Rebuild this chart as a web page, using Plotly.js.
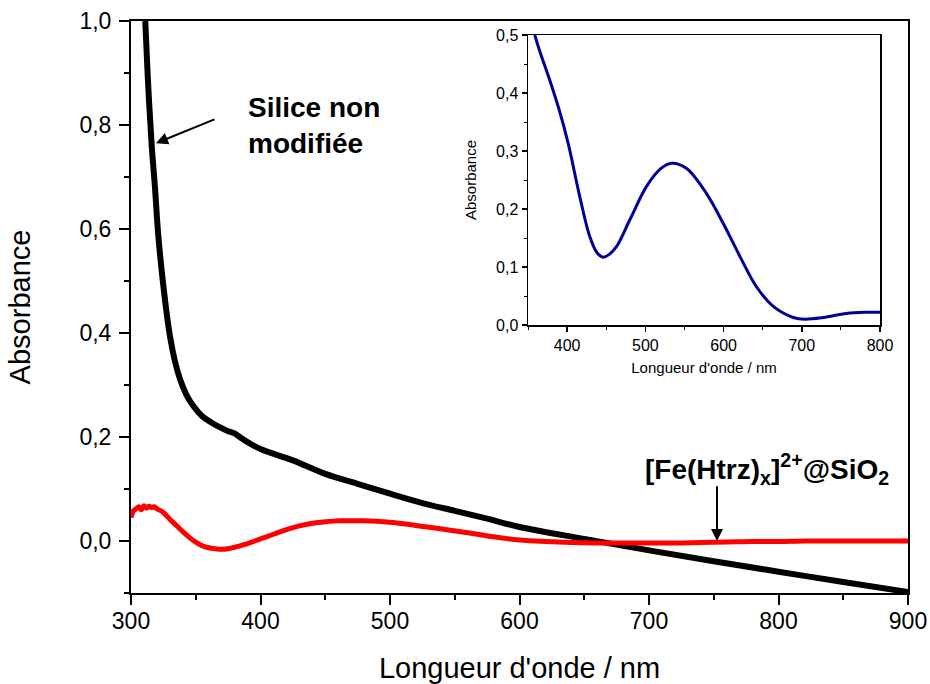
<!DOCTYPE html>
<html>
<head>
<meta charset="utf-8">
<script src="https://cdn.plot.ly/plotly-3.0.1.min.js"></script>
<style>html,body{margin:0;padding:0;background:#fff;}#chart{width:930px;height:684px;}</style>
</head>
<body>
<div id="chart"></div>
<script>
// Silice non modifiée (black)
const silicaX = [311,313,316,318.5,321,325,330,334,338,343,348,355,362,370,375,380,385,390,400,425,450,475,500,525,550,575,600,650,700,750,800,850,900];
const silicaY = [1.0,0.89,0.76,0.68,0.59,0.49,0.395,0.345,0.31,0.28,0.26,0.24,0.228,0.217,0.211,0.207,0.198,0.19,0.177,0.155,0.129,0.110,0.091,0.073,0.058,0.043,0.027,0.004,-0.018,-0.039,-0.059,-0.079,-0.098];

// [Fe(Htrz)x]2+@SiO2 (red)
const feX = [300,302,304,306,308,310,312,314,316,318,320,325,330,335,340,345,350,355,360,365,370,375,380,390,400,410,420,430,440,450,460,470,480,490,500,520,540,560,580,600,620,640,660,680,700,720,740,760,780,800,820,840,860,880,900];
const feY = [0.045,0.058,0.062,0.066,0.060,0.068,0.063,0.067,0.064,0.066,0.062,0.055,0.042,0.030,0.018,0.007,-0.002,-0.009,-0.013,-0.015,-0.016,-0.015,-0.012,-0.005,0.004,0.013,0.022,0.029,0.034,0.037,0.039,0.039,0.039,0.038,0.036,0.030,0.023,0.016,0.008,0.002,-0.001,-0.003,-0.004,-0.004,-0.004,-0.004,-0.003,-0.002,-0.001,-0.001,0.000,0.000,0.000,0.000,0.000];

// Inset (blue)
const insetX = [358.6,365,377.8,390,401.3,416.2,429,438,446,454,463,480,501.5,520,533.5,552.7,578,599.6,621,642,663.6,689,704,727.5,757,780,800];
const insetY = [0.5,0.472,0.422,0.37,0.313,0.221,0.152,0.125,0.117,0.122,0.135,0.181,0.239,0.27,0.279,0.270,0.227,0.175,0.118,0.066,0.032,0.013,0.010,0.013,0.020,0.022,0.022];

const FONT = 'Liberation Sans, Arial, sans-serif';

const traces = [
  {x: silicaX, y: silicaY, type: 'scatter', mode: 'lines', line: {color: '#000000', width: 6, shape: 'spline'}, xaxis: 'x', yaxis: 'y', showlegend: false},
  {x: feX, y: feY, type: 'scatter', mode: 'lines', line: {color: '#ff0000', width: 5, shape: 'spline'}, xaxis: 'x', yaxis: 'y', showlegend: false},
  {x: insetX, y: insetY, type: 'scatter', mode: 'lines', line: {color: '#000099', width: 3, shape: 'spline'}, xaxis: 'x2', yaxis: 'y2', showlegend: false}
];

const layout = {
  width: 930, height: 684,
  margin: {l: 131, r: 22, t: 21, b: 91},
  paper_bgcolor: '#ffffff', plot_bgcolor: '#ffffff',
  font: {family: FONT, color: '#000000'},
  separators: ', ',
  xaxis: {
    domain: [0, 1], range: [300, 900], dtick: 100, tick0: 300,
    showgrid: false, zeroline: false, showline: true, linecolor: '#000', linewidth: 2, mirror: true,
    ticks: 'outside', ticklen: 10, tickwidth: 2, tickcolor: '#000',
    minor: {dtick: 50, ticks: 'outside', ticklen: 5, tickwidth: 2, tickcolor: '#000'},
    tickfont: {size: 23, family: FONT}, ticklabelstandoff: -4,
    title: {text: "Longueur d'onde / nm", font: {size: 29, family: FONT}, standoff: 26},
    automargin: false
  },
  yaxis: {
    domain: [0, 1], range: [-0.1, 1.0], dtick: 0.2, tick0: 0, tickformat: '.1f',
    showgrid: false, zeroline: false, showline: true, linecolor: '#000', linewidth: 2, mirror: true,
    ticks: 'outside', ticklen: 10, tickwidth: 2, tickcolor: '#000',
    minor: {dtick: 0.1, ticks: 'outside', ticklen: 5, tickwidth: 2, tickcolor: '#000'},
    tickfont: {size: 23, family: FONT}, ticklabelstandoff: 3,
    title: {text: 'Absorbance', font: {size: 29, family: FONT}, standoff: 40},
    automargin: false
  },
  xaxis2: {
    domain: [0.511, 0.964], range: [350, 800], dtick: 100, tick0: 400, anchor: 'y2',
    showgrid: false, zeroline: false, showline: true, linecolor: '#000', linewidth: 1.5, mirror: true,
    ticks: 'outside', ticklen: 5, tickwidth: 1.5, tickcolor: '#000',
    minor: {dtick: 50, ticks: 'outside', ticklen: 3, tickwidth: 1, tickcolor: '#000'},
    tickfont: {size: 16, family: FONT},
    title: {text: "Longueur d'onde / nm", font: {size: 15, family: FONT}, standoff: 10},
    automargin: false
  },
  yaxis2: {
    domain: [0.4685, 0.9755], range: [0, 0.5], dtick: 0.1, tick0: 0, tickformat: '.1f', anchor: 'x2',
    showgrid: false, zeroline: false, showline: true, linecolor: '#000', linewidth: 1.5, mirror: true,
    ticks: 'outside', ticklen: 5, tickwidth: 1.5, tickcolor: '#000',
    minor: {dtick: 0.05, ticks: 'outside', ticklen: 3, tickwidth: 1, tickcolor: '#000'},
    tickfont: {size: 16, family: FONT},
    title: {text: 'Absorbance', font: {size: 15, family: FONT}, standoff: 16},
    automargin: false
  },
  shapes: [
    {type: 'rect', xref: 'x2 domain', yref: 'y2 domain', x0: 0, x1: 1, y0: 0, y1: 1, fillcolor: '#ffffff', line: {width: 0}, layer: 'below'}
  ],
  annotations: [
    {xref: 'x', yref: 'y', x: 389, y: 0.80, text: '<b>Silice non<br>modifiée</b>', showarrow: false, xanchor: 'left', yanchor: 'middle', align: 'left', font: {size: 28, family: FONT, color: '#000'}},
    {xref: 'x', yref: 'y', axref: 'x', ayref: 'y', x: 319.3, y: 0.765, ax: 365.6, ay: 0.812, text: '', showarrow: true, arrowhead: 2, arrowsize: 1.2, arrowwidth: 2, arrowcolor: '#000'},
    {xref: 'x', yref: 'y', x: 791, y: 0.138, text: '<b>[Fe(Htrz)<sub>x</sub>]<sup>2+</sup>@SiO<sub>2</sub></b>', showarrow: false, xanchor: 'center', yanchor: 'middle', font: {size: 28, family: FONT, color: '#000'}},
    {xref: 'x', yref: 'y', axref: 'x', ayref: 'y', x: 752.5, y: 0.0, ax: 752.5, ay: 0.108, text: '', showarrow: true, arrowhead: 2, arrowsize: 1.2, arrowwidth: 2, arrowcolor: '#000'}
  ]
};

Plotly.newPlot('chart', traces, layout, {staticPlot: true, displayModeBar: false});
</script>
</body>
</html>
